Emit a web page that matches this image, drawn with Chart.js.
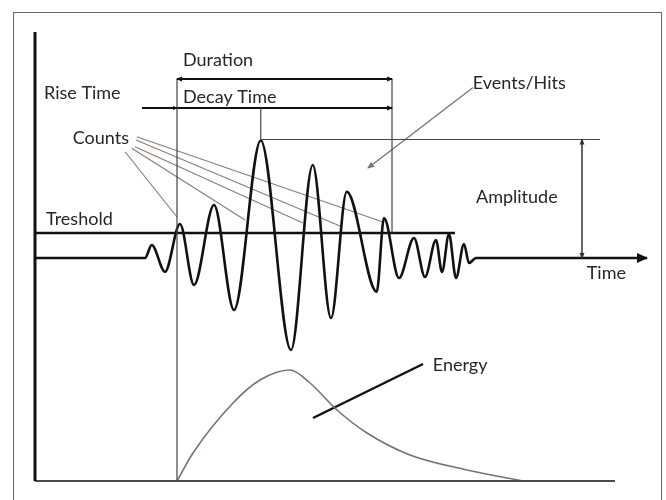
<!DOCTYPE html>
<html>
<head>
<meta charset="utf-8">
<script src="https://cdn.jsdelivr.net/npm/chart.js@4.4.0/dist/chart.umd.min.js"></script>
<style>
  html, body { margin: 0; padding: 0; background: #fff; overflow: hidden; }
  #wrap { position: relative; width: 666px; height: 500px; }
  #frame { position: absolute; left: 13px; top: 12px; width: 647px; height: 520px; border: 1px solid #666; pointer-events: none; }
</style>
</head>
<body>
<div id="wrap">
  <canvas id="aeChart" width="666" height="500"></canvas>
  <div id="frame"></div>
</div>
<script>
// AE hit waveform, time in arbitrary units, amplitude around the baseline
const waveTime = [0, 44, 46.7, 52, 58, 63.6, 71.6, 79.6, 90.3, 102.4, 111.1, 118.4, 124.7, 136.7, 139.6, 145.6, 151.6, 156, 160.4, 162.8, 165.6, 168.4, 171.6, 173.6, 176.4, 244.8];
const waveAmp  = [0, 0, 5.2, -5.5, 13.6, -10.8, 21.2, -20.8, 47, -36.8, 37.2, -24, 26.5, -13.5, 16, -8, 8, -7.6, 7.2, -5.6, 9.6, -8, 5.6, -2, 0, 0];

// energy envelope (own axis, zero at the bottom line)
const energyTime  = [56.8, 63.2, 79.2, 90, 102, 110, 120.8, 132.8, 150, 172.8, 195.2];
const energyLevel = [0, 11.2, 31.2, 40.4, 44.4, 39.2, 28.4, 19.2, 10.4, 4.4, 0];

// levels / times used by the markers
const threshold = 10;
const peakAmp = 47.4;
const hitStart = 56.8;      // first threshold crossing
const peakTime = 90.3;
const hitEnd = 142.8;       // last threshold crossing
const thresholdEnd = 168;
const riseStart = 42.8;
const durationLevel = 71.6;
const decayLevel = 60;
const ampArrowTime = 218.8;
const ampLineEnd = 226;
const axisTop = 90.4;
const axisBottom = -89.2;
const bottomLineEnd = 232;

// counts pointers: from label to each count
const countFromT = [36, 38.7, 40, 40.4, 40.7];
const countFromA = [42.5, 43.9, 44.5, 47.2, 48.5];
const countToT   = [56.8, 84, 107.2, 122, 139.2];
const countToA   = [16.4, 15.2, 14, 12.8, 14.4];

const notes = [
  { text: 'Duration',    t: 59.2,  v: 79.2,  axis: 'y' },
  { text: 'Rise Time',   t: 3.6,   v: 66.1,  axis: 'y' },
  { text: 'Decay Time',  t: 59.2,  v: 64.4,  axis: 'y' },
  { text: 'Counts',      t: 15.1,  v: 47.9,  axis: 'y' },
  { text: 'Treshold',    t: 4.4,   v: 15.6,  axis: 'y' },
  { text: 'Events/Hits', t: 175.1, v: 69.9,  axis: 'y' },
  { text: 'Amplitude',   t: 176.4, v: 24.5,  axis: 'y' },
  { text: 'Time',        t: 220.7, v: -6,    axis: 'y' },
  { text: 'Energy',      t: 159.1, v: 46.4,  axis: 'yE' }
];

function pts(ts, vs) {
  return ts.map((t, i) => ({ x: t, y: vs[i] }));
}

function seg(label, ts, vs, color, width, extra) {
  return Object.assign({
    label: label,
    data: pts(ts, vs),
    showLine: true,
    borderColor: color,
    backgroundColor: color,
    borderWidth: width,
    pointRadius: 0,
    clip: false,
    yAxisID: 'y'
  }, extra || {});
}

const datasets = [
  seg('Y axis', [0, 0], [axisTop, axisBottom], '#111', 3),
  seg('Bottom', [0, bottomLineEnd], [0, 0], '#4a4a4a', 2, { yAxisID: 'yE' }),
  seg('Start', [hitStart, hitStart], [durationLevel, axisBottom], '#444', 1.2),
  seg('End', [hitEnd, hitEnd], [durationLevel, threshold], '#444', 1.2),
  seg('Peak mark', [peakTime, peakTime], [decayLevel, peakAmp], '#444', 1.2),
  seg('Peak level', [peakTime, ampLineEnd], [peakAmp, peakAmp], '#444', 1.2),
  seg('Amplitude', [ampArrowTime, ampArrowTime], [peakAmp, 0], '#333', 1.5, { arrow: 'both', arrowSize: 5 }),
  seg('Duration', [hitStart, hitEnd], [durationLevel, durationLevel], '#111', 2, { arrow: 'both', arrowSize: 5 }),
  seg('Rise', [riseStart, hitStart], [decayLevel, decayLevel], '#111', 2, { arrow: 'end', arrowSize: 4 }),
  seg('Decay', [hitStart, hitEnd], [decayLevel, decayLevel], '#111', 2, { arrow: 'end', arrowSize: 5 }),
  seg('Threshold', [0, thresholdEnd], [threshold, threshold], '#111', 2.5),
  seg('Events', [175.2, 133.2], [68.2, 36], '#7d706b', 1.3, { arrow: 'end', arrowSize: 6 }),
  seg('Energy', energyTime, energyLevel, '#7d706b', 1.6, { yAxisID: 'yE', cubicInterpolationMode: 'monotone' }),
  seg('Energy pointer', [111.2, 155.2], [25.2, 46.8], '#111', 2.5, { yAxisID: 'yE' }),
  seg('Wave', waveTime, waveAmp, '#111', 2.6, { cubicInterpolationMode: 'monotone', arrow: 'end', arrowSize: 10 })
];

countFromT.forEach((t, i) => {
  datasets.push(seg('Count ' + (i + 1), [t, countToT[i]], [countFromA[i], countToA[i]], '#8a7e79', 1.2));
});

const arrowPlugin = {
  id: 'arrows',
  afterDatasetsDraw(chart) {
    const ctx = chart.ctx;
    chart.data.datasets.forEach((ds, i) => {
      if (!ds.arrow) return;
      const p = chart.getDatasetMeta(i).data;
      const heads = [];
      if (ds.arrow === 'end' || ds.arrow === 'both') heads.push([p[p.length - 2], p[p.length - 1]]);
      if (ds.arrow === 'start' || ds.arrow === 'both') heads.push([p[1], p[0]]);
      heads.forEach(([a, b]) => {
        const ang = Math.atan2(b.y - a.y, b.x - a.x);
        const len = ds.arrowSize || 6;
        ctx.save();
        ctx.fillStyle = ds.borderColor;
        ctx.translate(b.x, b.y);
        ctx.rotate(ang);
        ctx.beginPath();
        ctx.moveTo(1, 0);
        ctx.lineTo(-len, -len * 0.5);
        ctx.lineTo(-len, len * 0.5);
        ctx.closePath();
        ctx.fill();
        ctx.restore();
      });
    });
  }
};

const notesPlugin = {
  id: 'notes',
  afterDatasetsDraw(chart) {
    const ctx = chart.ctx;
    ctx.save();
    ctx.font = '18px Lato';
    ctx.fillStyle = '#262626';
    ctx.textBaseline = 'middle';
    notes.forEach(n => {
      ctx.fillText(n.text, chart.scales.x.getPixelForValue(n.t), chart.scales[n.axis].getPixelForValue(n.v));
    });
    ctx.restore();
  }
};

new Chart(document.getElementById('aeChart').getContext('2d'), {
  type: 'scatter',
  data: { datasets: datasets },
  options: {
    responsive: false,
    animation: false,
    layout: { padding: { left: 35, right: 6, top: 28, bottom: 19 } },
    plugins: { legend: { display: false }, tooltip: { enabled: false } },
    scales: {
      x: { type: 'linear', display: false, min: 0, max: 250 },
      y: { type: 'linear', display: false, min: -89.2, max: 92 },
      yE: { type: 'linear', display: false, min: 0, max: 181.2 }
    }
  },
  plugins: [arrowPlugin, notesPlugin]
});
</script>
</body>
</html>
